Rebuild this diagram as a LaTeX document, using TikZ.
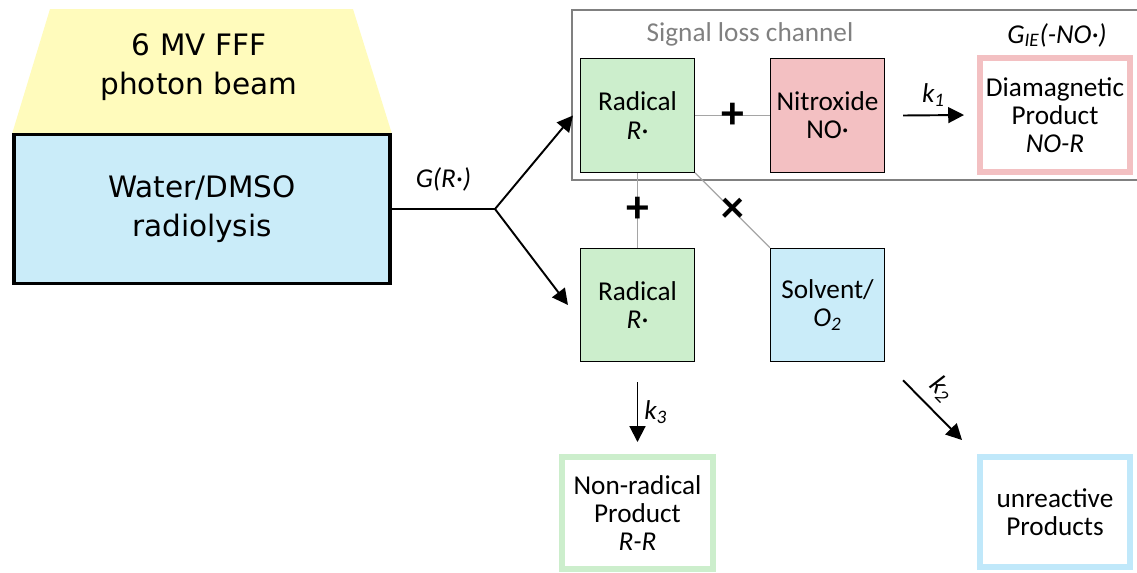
\documentclass[tikz,border=0pt]{standalone}
\usepackage{fontspec}
\setmainfont{Carlito}
\newfontfamily\vera{DejaVu Sans}
\usetikzlibrary{arrows.meta}

\definecolor{beamyellow}{RGB}{255,251,188}
\definecolor{solvblue}{RGB}{202,236,249}
\definecolor{prodblue}{RGB}{192,232,250}
\definecolor{radgreen}{RGB}{204,238,204}
\definecolor{nitrored}{RGB}{243,192,194}
\definecolor{chgray}{RGB}{128,128,128}
\definecolor{linkgray}{RGB}{165,165,165}

\begin{document}
\begin{tikzpicture}[
  x=0.02cm, y=-0.02cm,
  font=\fontsize{15.5}{16}\selectfont,
  species/.style={draw, line width=0.6pt, minimum width=2.28cm, minimum height=2.27cm,
    align=center, inner sep=0pt},
  product/.style={draw, line width=3.4pt, minimum width=3cm, minimum height=2.24cm,
    align=center, inner sep=0pt},
  beamtext/.style={font=\vera\fontsize{16.8}{22}\selectfont, align=center},
  react/.style={line width=1.1pt, -{Triangle[length=9pt,width=9pt]}},
  link/.style={linkgray, line width=0.7pt},
  sign/.style={font=\fontsize{26}{26}\selectfont\bfseries, text=black, inner sep=0pt},
]
  \useasboundingbox (0,0) rectangle (1137,572);

  % beam and radiolysis
  \fill[beamyellow] (50,9) -- (353,9) -- (392,134) -- (12,134) -- cycle;
  \node[beamtext] (beam) at (199,67) {6 MV FFF\\photon beam};
  \node[beamtext, draw, line width=2.2pt, fill=solvblue, minimum width=7.52cm,
    minimum height=2.98cm] (water) at (202,209) {Water/DMSO\\radiolysis};

  % signal loss channel
  \draw[chgray, line width=1.2pt] (1140,10) -- (572,10) -- (572,180) -- (1140,180);
  \node[text=chgray] (chlabel) at (750,34) {Signal loss channel};
  \node (gie) at (1057,35) {\textit{G\textsubscript{IE}(-NO·)}};

  \node[species, fill=radgreen] (rad1) at (637.5,115.5) {Radical\\\textit{R·}};
  \node[species, fill=nitrored] (nitro) at (827.5,115.5) {Nitroxide\\NO·};
  \node[product, draw=nitrored, minimum height=2.28cm] (diamag) at (1055,115)
    {Diamagnetic\\Product\\\textit{NO-R}};

  % outside the channel
  \node[species, fill=radgreen] (rad2) at (637.5,305) {Radical\\\textit{R·}};
  \node[species, fill=solvblue] (solvent) at (827.5,305) {Solvent/\\\textit{O\textsubscript{2}}};
  \node[product, draw=radgreen, minimum width=3.02cm] (nonrad) at (637.5,513)
    {Non-radical\\Product\\\textit{R-R}};
  \node[product, draw=prodblue, minimum height=2.2cm] (unreact) at (1055,512)
    {unreactive\\Products};

  % radiolysis yield
  \coordinate (fork) at (495,209);
  \draw[line width=1.1pt] (water.east) -- node[above=0.22cm] {\textit{G(R·)}} (fork);
  \draw[react] (fork) -- ([xshift=-0.14cm]rad1.west);
  \draw[react] (fork) -- ([xshift=-0.24cm]rad2.west);

  % encounters
  \draw[link] (rad1) -- node[sign] {+} (nitro);
  \draw[link] (rad1) -- node[sign] {+} (rad2);
  \draw[link] (rad1.south east) -- node[sign] {×} (solvent.north west);

  % reactions
  \draw[react] ([xshift=0.36cm]nitro.east) -- node[above=1pt] {\textit{k\textsubscript{1}}}
    ([xshift=-0.26cm]diamag.west);
  \draw[react] ([yshift=-0.4cm]rad2.south) -- node[right] {\textit{k\textsubscript{3}}}
    ([yshift=0.24cm]nonrad.north);
  \draw[react] ([xshift=0.36cm,yshift=-0.36cm]solvent.south east) --
    node[above=4pt, sloped, pos=0.4, inner sep=1pt] {\textit{k\textsubscript{2}}}
    ([xshift=-0.3cm,yshift=0.28cm]unreact.north west);
\end{tikzpicture}
\end{document}
